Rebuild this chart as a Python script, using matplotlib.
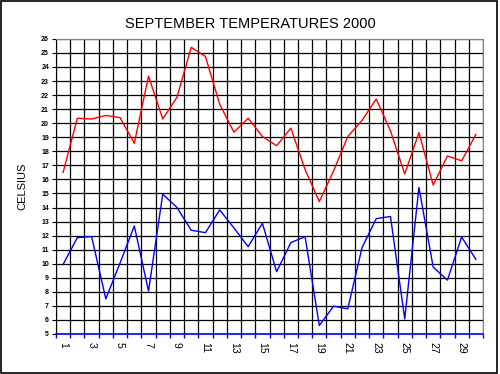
import matplotlib
matplotlib.use("Agg")
from matplotlib import pyplot as plt
import numpy as np

days = list(range(1, 31))
max_temp = [16.5, 20.35, 20.3, 20.55, 20.4, 18.57, 23.35, 20.3, 21.85, 25.4,
            24.75, 21.35, 19.36, 20.36, 19.05, 18.4, 19.65, 16.7, 14.42, 16.6,
            19.05, 20.2, 21.72, 19.45, 16.39, 19.33, 15.6, 17.67, 17.32, 19.2]
min_temp = [9.95, 11.86, 11.93, 7.5, 10.05, 12.69, 8.05, 14.95, 14.0, 12.38,
            12.21, 13.83, 12.55, 11.21, 12.88, 9.43, 11.5, 11.93, 5.6, 6.98,
            6.79, 11.14, 13.21, 13.36, 6.07, 15.43, 9.76, 8.83, 11.9, 10.31]
day_labels = [str(d) for d in range(1, 30, 2)]
y_ticks = list(range(5, 27))

plt.rcParams['font.family'] = ['Liberation Sans', 'DejaVu Sans']

fig = plt.figure(figsize=(5, 3.74), dpi=100, facecolor="white")
ax = fig.add_axes([0.112, 0.107, 0.854, 0.789])
ax.set_facecolor("white")

ax.plot(days, max_temp, color="#ff0000", lw=1.0)
ax.plot(days, min_temp, color="#0000ff", lw=1.0)

ax.set_xlim(0.5, 30.5)
ax.set_ylim(5, 26)
ax.set_yticks(y_ticks)
ax.set_yticklabels([str(t) for t in y_ticks], fontsize=5, fontweight="bold")
ax.set_xticks(np.arange(0.5, 31, 1))
ax.set_xticklabels([])
ax.set_xticks(range(1, 30, 2), minor=True)
ax.set_xticklabels(day_labels, minor=True, rotation=-90, fontsize=7.5)
ax.tick_params(axis="x", which="major", length=3, color="#0000ff", width=1)
ax.tick_params(axis="x", which="minor", length=0, pad=6)
ax.tick_params(axis="y", length=3, color="black", width=0.8, pad=2)
ax.grid(True, which="major", color="black", lw=0.9)
ax.set_axisbelow(True)

ax.spines["left"].set_color("black")
ax.spines["bottom"].set_color("#0000ff")
ax.spines["bottom"].set_linewidth(1.2)
ax.spines["top"].set_color("#808080")
ax.spines["right"].set_color("#808080")

ax.set_ylabel("CELSIUS", fontsize=8, labelpad=10)
fig.text(0.5, 0.936, "SEPTEMBER TEMPERATURES 2000", ha="center", va="center", fontsize=10.5)

# outer frame, drawn a few pixels short of the right/bottom edge as in the original
border = plt.Rectangle((0.001, 0.004), 0.993, 0.994, transform=fig.transFigure,
                       fill=False, edgecolor="black", lw=1.2)
fig.patches.append(border)

fig.savefig("out.png", dpi=100, facecolor=fig.get_facecolor())
